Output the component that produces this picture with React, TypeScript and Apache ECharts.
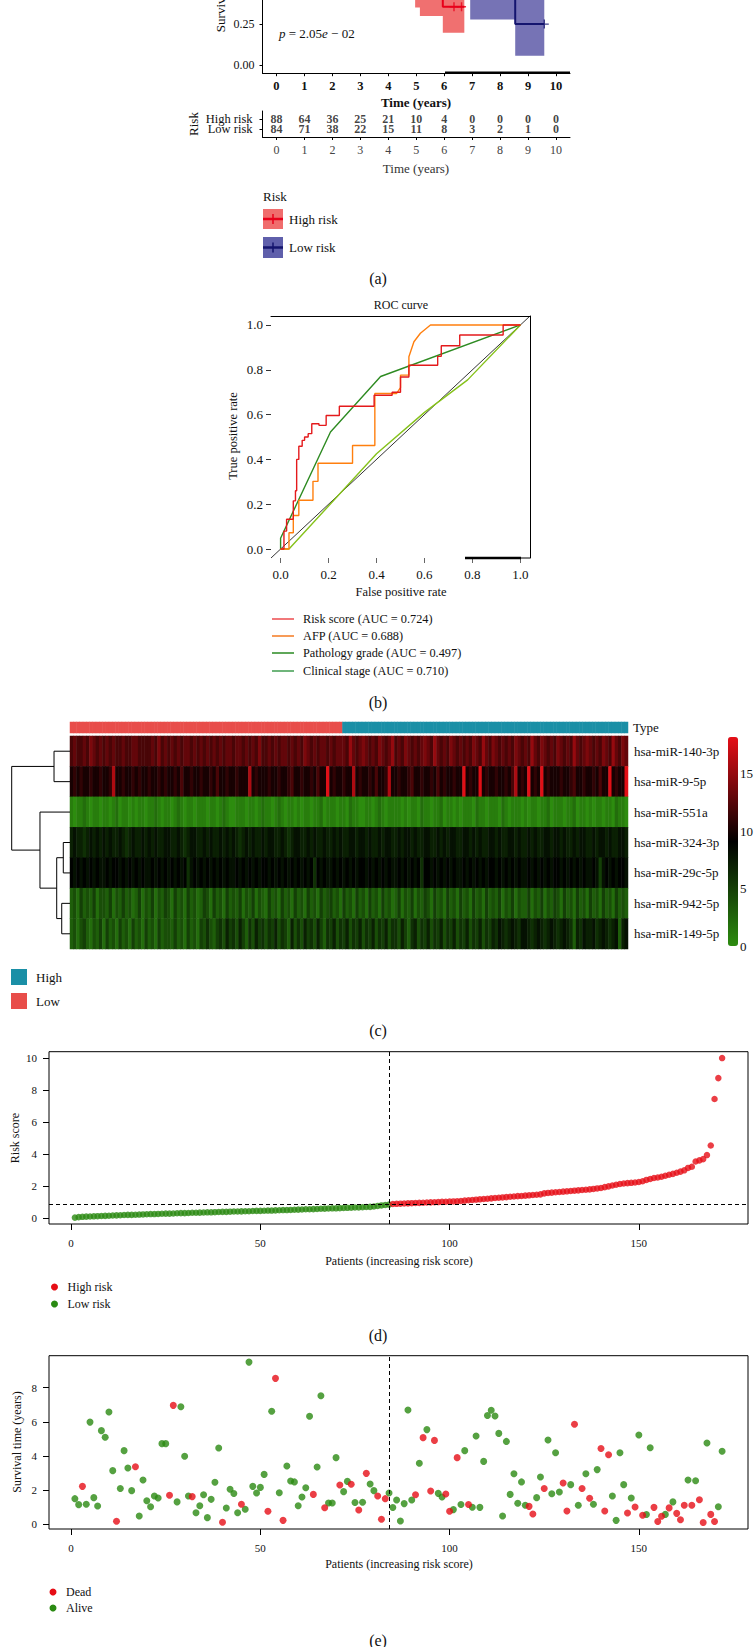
import React, { useEffect, useRef } from "react";
import * as echarts from "echarts";

const FONT = "'Liberation Serif', 'Times New Roman', serif";

// ================= (a) Kaplan-Meier =================
const kmTicks = [0, 1, 2, 3, 4, 5, 6, 7, 8, 9, 10];
const survTicks = [0, 0.25, 0.5, 0.75, 1];
const riskGroups = ["High risk", "Low risk"];
const highAtRisk = [88, 64, 36, 25, 21, 10, 4, 0, 0, 0, 0];
const lowAtRisk = [84, 71, 38, 22, 15, 11, 8, 3, 2, 1, 0];
const highTime = [0, 0.3, 0.6, 0.9, 1.2, 1.6, 2.0, 2.5, 3.0, 3.5, 4.0, 4.5, 4.96, 5.13, 5.95, 6.72];
const highSurv = [1, 0.96, 0.91, 0.86, 0.81, 0.76, 0.71, 0.66, 0.62, 0.58, 0.55, 0.52, 0.5, 0.46, 0.356, 0.356];
const highLower = [1, 0.93, 0.86, 0.8, 0.74, 0.68, 0.63, 0.57, 0.53, 0.49, 0.46, 0.43, 0.352, 0.3, 0.197, 0.197];
const highUpper = [1, 0.99, 0.96, 0.92, 0.88, 0.84, 0.8, 0.76, 0.72, 0.68, 0.66, 0.63, 0.62, 0.6, 0.58, 0.58];
const highCensor = [6.35, 6.62];
const lowTime = [0, 0.4, 0.9, 1.4, 1.9, 2.4, 2.9, 3.4, 3.9, 4.5, 5.1, 5.7, 6.3, 6.93, 8.54, 9.58];
const lowSurv = [1, 0.97, 0.93, 0.89, 0.85, 0.81, 0.77, 0.73, 0.7, 0.67, 0.64, 0.61, 0.58, 0.52, 0.25, 0.25];
const lowLower = [1, 0.95, 0.89, 0.84, 0.79, 0.74, 0.7, 0.65, 0.62, 0.58, 0.55, 0.51, 0.47, 0.279, 0.057, 0.057];
const lowUpper = [1, 0.99, 0.97, 0.94, 0.91, 0.88, 0.85, 0.82, 0.79, 0.77, 0.74, 0.72, 0.7, 0.8, 0.62, 0.62];
const lowCensor = [9.58];
// visible window of the (cropped) survival panel
const kmYMin = -0.05;
const kmYMax = 0.397;

// ================= (b) ROC =================
const rocTicks = [0, 0.2, 0.4, 0.6, 0.8, 1.0];
const rocRiskScore = [[0,0],[0.014,0],[0.014,0.08],[0.025,0.08],[0.025,0.133],[0.053,0.133],[0.053,0.215],[0.062,0.215],[0.062,0.26],[0.067,0.26],[0.067,0.4],[0.076,0.4],[0.076,0.459],[0.09,0.459],[0.09,0.485],[0.1,0.485],[0.1,0.5],[0.115,0.5],[0.115,0.515],[0.13,0.515],[0.13,0.559],[0.16,0.559],[0.16,0.552],[0.19,0.552],[0.19,0.596],[0.245,0.596],[0.245,0.637],[0.39,0.637],[0.39,0.686],[0.465,0.686],[0.465,0.7],[0.5,0.7],[0.5,0.768],[0.535,0.768],[0.535,0.82],[0.655,0.82],[0.655,0.86],[0.67,0.86],[0.67,0.907],[0.747,0.907],[0.747,0.955],[0.928,0.955],[0.928,1],[1,1]];
const rocAFP = [[0,0],[0.035,0],[0.035,0.073],[0.053,0.073],[0.053,0.15],[0.076,0.15],[0.076,0.218],[0.135,0.218],[0.135,0.302],[0.156,0.302],[0.156,0.383],[0.3,0.383],[0.3,0.462],[0.393,0.462],[0.393,0.694],[0.483,0.694],[0.5,0.72],[0.5,0.776],[0.535,0.776],[0.535,0.858],[0.556,0.925],[0.583,0.963],[0.625,1],[1,1]];
const rocPathology = [[0,0],[0.035,0],[0.4,0.425],[0.6,0.61],[0.78,0.755],[1,1]];
const rocClinical = [[0,0],[0,0.048],[0.208,0.522],[0.417,0.77],[1,1]];
const rocDiagonal = [[-0.04,-0.04],[1.04,1.04]];
const rocLegend = ["Risk score (AUC = 0.724)", "AFP (AUC = 0.688)", "Pathology grade (AUC = 0.497)", "Clinical stage (AUC = 0.710)"];

// ================= (c) Heatmap =================
const genes = ["hsa-miR-140-3p", "hsa-miR-9-5p", "hsa-miR-551a", "hsa-miR-324-3p", "hsa-miR-29c-5p", "hsa-miR-942-5p", "hsa-miR-149-5p"];
// expression levels, one character per patient (base-36 digit: 0..18)
const miR140 = ["cdccdcedcd","cdcdccdccd","dccccdcecd","cdcdcddcdc","dcdcdcdcdd","cddcdcdcec","cdcdcddcdc","dcedcdcddc","dcdddcfdcd","edcdcedcdf","cdcedcdcde","dcfdcdcedc","dcdcedcfdc","edcdcdcedc","dcfdcedcdc","edcdcfdcde","dcdcedcfdc","ed"].join("");
const miR9 = ["ababaabaab","aabgaabaab","abaabaabab","aabacaabaa","baabacaaba","abaaagabaa","abaabaabca","abaabacaai","abaabaagab","aabacaabga","abaabcaaba","abacabaaba","aiabaaiaba","abaabacgab","aiabaiabaa","abaabcaaba","abacaaiaba","ai"].join("");
const miR551 = ["1011210110","1101201101","0110112101","1012101101","1101101210","0111011012","1101210110","1011011201","1101102110","0110121011","1101011021","1011201101","0111021101","1102101110","1011011201","1101120110","1011011021","10"].join("");
const miR324 = ["7877678787","8787787678","7787878778","8778767887","7878778787","8767878778","7887787678","8778787787","7878778878","8787787887","7878878778","8778787887","7887878778","8787788787","7878778878","8787787887","7878878778","87"].join("");
const miR29c = ["9898989898","8989989898","9898898989","8989896898","9898989898","8989898989","9898989898","9898969898","8989898989","9898989898","8989898969","9898989898","8989898989","9898989898","8989898989","9898989898","8985898989","98"].join("");
const miR942 = ["3425343524","4352435342","3524352435","4253425342","3542534253","4352435243","2534253425","3425342534","5342534253","4253425342","3524352435","4253425342","5342534253","4352435243","3524352435","4253425342","5342534253","43"].join("");
const miR149 = ["3424532435","2534253425","3425342534","4353425342","5464356475","6475364756","4657465374","6475647536","5746574657","4657465746","6475367465","7465746574","6574657465","7687678768","8767876787","6787637687","7867876783","78"].join("");
const exprRows = [miR140, miR9, miR551, miR324, miR29c, miR942, miR149];
const colorbarTicks = [0, 5, 10, 15];
const exprMax = 18.2;
// dendrogram: leaves are row indices, h = merge height (root = 1)
const dendro = { h: 1, l: { h: 0.274, l: 0, r: 1 }, r: { h: 0.515, l: 2, r: { h: 0.228, l: { h: 0.115, l: 3, r: 4 }, r: { h: 0.142, l: 5, r: 6 } } } };

// ================= (d) Risk score =================
const patientTicks = [0, 50, 100, 150];
const riskTicks = [0, 2, 4, 6, 8, 10];
const riskCutoff = 0.88;
const riskScore = [
  0.05,0.08,0.10,0.11,0.12,0.13,0.14,0.15,0.16,0.17,
  0.18,0.19,0.20,0.21,0.22,0.22,0.23,0.24,0.25,0.26,
  0.27,0.27,0.28,0.29,0.30,0.30,0.31,0.32,0.33,0.33,
  0.34,0.35,0.35,0.36,0.37,0.38,0.38,0.39,0.40,0.41,
  0.41,0.42,0.43,0.43,0.44,0.45,0.45,0.46,0.47,0.47,
  0.48,0.49,0.49,0.50,0.51,0.52,0.52,0.53,0.54,0.55,
  0.56,0.57,0.57,0.58,0.59,0.60,0.61,0.62,0.63,0.63,
  0.64,0.65,0.66,0.67,0.68,0.69,0.70,0.71,0.72,0.74,
  0.78,0.81,0.84,0.86,
  0.90,0.91,0.92,0.93,0.94,0.95,0.96,0.97,0.98,0.99,
  1.00,1.01,1.02,1.03,1.04,1.05,1.06,1.07,1.09,1.11,
  1.13,1.15,1.17,1.19,1.21,1.23,1.25,1.27,1.29,1.31,
  1.33,1.35,1.37,1.39,1.40,1.42,1.44,1.46,1.48,1.50,
  1.56,1.59,1.61,1.63,1.65,1.67,1.69,1.71,1.73,1.75,
  1.77,1.79,1.81,1.84,1.87,1.90,1.95,2.00,2.05,2.10,
  2.15,2.18,2.20,2.22,2.24,2.27,2.32,2.40,2.46,2.52,
  2.55,2.60,2.66,2.72,2.78,2.85,2.92,3.00,3.15,3.22,
  3.55,3.62,3.70,3.95,4.55,7.45,8.75,10.00
];

// ================= (e) Survival status =================
const survTicks2 = [0, 2, 4, 6, 8];
const survTime = [
  1.50,1.15,2.22,1.17,5.98,1.56,1.07,5.48,5.09,6.57,
  3.14,0.18,2.09,4.31,3.29,1.97,3.37,0.49,2.59,1.38,
  1.03,1.66,1.54,4.72,4.72,1.70,6.96,1.31,6.88,3.98,
  1.66,1.62,0.68,1.09,1.73,0.39,1.46,2.46,4.46,0.12,
  0.95,2.05,1.80,0.68,1.17,0.88,9.49,2.22,1.83,2.16,
  2.92,0.76,6.61,8.54,1.85,0.23,3.41,2.53,2.48,1.09,
  1.60,2.14,6.32,1.75,3.35,7.52,0.97,1.25,1.25,3.90,
  2.30,1.91,2.51,2.34,1.27,0.84,1.29,2.98,2.36,1.97,
  1.66,0.29,1.50,1.83,0.98,1.42,0.19,1.21,6.69,1.42,
  1.73,3.57,5.07,5.54,1.95,4.91,1.81,1.60,1.77,0.76,
  0.86,3.90,1.16,4.31,1.16,1.00,5.17,0.99,3.68,6.37,
  6.67,6.34,5.32,0.49,4.85,1.75,2.96,1.23,2.48,1.11,
  1.05,0.60,1.56,2.77,2.09,4.93,1.79,4.19,1.89,2.42,
  0.78,2.32,5.85,1.11,2.09,2.96,1.52,1.17,3.20,4.44,
  0.78,4.07,1.66,0.23,4.19,2.32,0.66,1.54,1.01,5.22,
  0.53,0.57,4.48,0.99,0.16,0.47,0.58,0.96,1.31,0.64,
  0.27,1.11,2.59,1.11,2.55,1.44,0.10,4.76,0.58,0.16,
  1.03,4.27
];
const survStatus = [
  0,0,1,0,0,0,0,0,0,0,
  0,1,0,0,0,0,1,0,0,0,
  0,0,0,0,0,1,1,0,0,0,
  0,1,0,0,0,0,0,0,0,1,
  0,0,0,0,1,0,0,0,0,0,
  0,1,0,1,0,1,0,0,0,0,
  0,0,0,1,0,0,1,0,0,0,
  1,0,0,1,0,1,0,1,0,0,
  1,1,1,0,0,0,0,0,0,0,
  1,0,1,0,1,1,0,0,1,1,
  0,1,0,0,1,0,0,0,0,0,
  0,0,0,0,0,0,0,0,0,0,
  1,1,0,0,1,0,0,0,0,1,
  1,0,1,0,1,0,1,0,0,1,
  1,1,0,0,0,0,1,0,1,0,
  1,0,0,1,1,1,0,1,0,1,
  1,1,0,1,0,1,1,0,1,1,
  0,0
];

// ================= colours =================
const RED = "#e60e16";
const GREEN = "#2a8a12";
const TEAL = "#1a8fa6";
const SALMON = "#e84d4a";

function txt(x: number, y: number, text: string, o: any = {}) {
  return {
    type: "text", x, y, z: 100, rotation: o.rot || 0, silent: true,
    style: {
      text, x: 0, y: 0, fill: o.color || "#111",
      fontSize: o.size || 12, fontFamily: FONT, fontWeight: o.weight || "normal", fontStyle: o.style || "normal",
      align: o.align || "left", verticalAlign: "middle", textAlign: o.align || "left", textVerticalAlign: "middle",
      rich: o.rich,
    },
  };
}
const lab = (vals: number[], fmt: any, size: number, margin: number, extra: any = {}) => ({
  show: true, customValues: vals, formatter: fmt, fontFamily: FONT, fontSize: size, color: "#111", margin,
  showMinLabel: true, showMaxLabel: true, hideOverlap: false, ...extra,
});
const tick = (vals: number[], len: number, color = "#000") => ({ show: true, customValues: vals, length: len, lineStyle: { color, width: 1 } });
const noLine = { show: false, onZero: false };
const blackLine = { show: true, onZero: false, lineStyle: { color: "#000", width: 1 } };

export default function App() {
  const ref = useRef<HTMLDivElement>(null);
  useEffect(() => {
    if (!ref.current) return;
    const chart = echarts.init(ref.current, null, { renderer: "svg", width: 756, height: 1647 });

    // ---- geometry ----
    const heat = { left: 70, top: 736, width: 558, height: 213 };
    const nPat = riskScore.length;
    const pMin = 1 - 0.04 * (nPat - 1), pMax = nPat + 0.04 * (nPat - 1);
    const ext = (arr: number[]) => { const lo = Math.min(...arr), hi = Math.max(...arr), r = hi - lo; return [lo - 0.04 * r, hi + 0.04 * r]; };
    const [rMin, rMax] = ext(riskScore);
    const [sMin, sMax] = ext(survTime);
    const lowCount = riskScore.filter((v) => v <= riskCutoff).length;
    const kmVisibleTicks = survTicks.filter((v) => v <= kmYMax);

    const stepAt = (ts: number[], ss: number[], t: number) => { let v = ss[0]; for (let i = 0; i < ts.length; i++) if (ts[i] <= t) v = ss[i]; return v; };

    const series: any[] = [];
    const add = (s: any) => { series.push(s); return series.length - 1; };
    // confidence bands (step ribbons) drawn through the axes' scales
    const bands = [
      { t: highTime, lo: highLower, hi: highUpper, color: "#f07070" },
      { t: lowTime, lo: lowLower, hi: lowUpper, color: "#7673b5" },
    ];
    add({
      type: "custom", xAxisIndex: 0, yAxisIndex: 0, clip: true, silent: true,
      data: bands.map((_, i) => [i, 0]),
      renderItem: (params: any, api: any) => {
        const b = bands[params.dataIndex];
        const pts: number[][] = [];
        for (let i = 0; i < b.t.length - 1; i++) { pts.push(api.coord([b.t[i], b.lo[i]])); pts.push(api.coord([b.t[i + 1], b.lo[i]])); }
        for (let i = b.t.length - 2; i >= 0; i--) { pts.push(api.coord([b.t[i + 1], b.hi[i]])); pts.push(api.coord([b.t[i], b.hi[i]])); }
        return { type: "polygon", shape: { points: pts }, style: { fill: b.color, stroke: null } };
      },
    });
    const kmBase = { type: "line", xAxisIndex: 0, yAxisIndex: 0, step: "end", symbol: "none", showSymbol: false, silent: true, clip: true };
    add({ ...kmBase, data: highTime.map((t, i) => [t, highSurv[i]]), lineStyle: { color: "#e8001a", width: 2 } });
    add({ ...kmBase, data: lowTime.map((t, i) => [t, lowSurv[i]]), lineStyle: { color: "#14146e", width: 2 } });
    const plus = "path://M4.2,0H5.8V10H4.2ZM0,4.2H10V5.8H0Z";
    add({ type: "scatter", xAxisIndex: 0, yAxisIndex: 0, symbol: plus, symbolSize: 9, clip: true, itemStyle: { color: "#e8001a" }, data: highCensor.map((t) => [t, stepAt(highTime, highSurv, t)]) });
    add({ type: "scatter", xAxisIndex: 0, yAxisIndex: 0, symbol: plus, symbolSize: 9, clip: true, itemStyle: { color: "#14146e" }, data: lowCensor.map((t) => [t, stepAt(lowTime, lowSurv, t)]) });
    // risk table
    const tableLabel = { show: true, position: "inside", formatter: (p: any) => String(p.value[2]), fontFamily: FONT, fontSize: 12, fontWeight: "bold", color: "#111" };
    add({ type: "scatter", xAxisIndex: 1, yAxisIndex: 1, symbolSize: 1, itemStyle: { color: "rgba(0,0,0,0)" }, label: tableLabel, data: kmTicks.map((t, i) => [t, 2, highAtRisk[i]]) });
    add({ type: "scatter", xAxisIndex: 1, yAxisIndex: 1, symbolSize: 1, itemStyle: { color: "rgba(0,0,0,0)" }, label: tableLabel, data: kmTicks.map((t, i) => [t, 1, lowAtRisk[i]]) });

    // ROC
    const rocBase = { type: "line", xAxisIndex: 2, yAxisIndex: 2, symbol: "none", showSymbol: false, silent: true, clip: true };
    add({ ...rocBase, data: rocDiagonal, lineStyle: { color: "#000", width: 0.8 } });
    add({ ...rocBase, data: rocPathology, lineStyle: { color: "#86c21b", width: 1.4 } });
    add({ ...rocBase, data: rocClinical, lineStyle: { color: "#2e8b22", width: 1.4 } });
    add({ ...rocBase, data: rocAFP, lineStyle: { color: "#ff7f0e", width: 1.4 } });
    add({ ...rocBase, data: rocRiskScore, lineStyle: { color: "#e41a1c", width: 1.4 } });

    // heatmap
    const typeData = riskScore.map((v, i) => [i, 0, v > riskCutoff ? 1 : 0]);
    const typeIdx = add({ type: "heatmap", xAxisIndex: 4, yAxisIndex: 4, data: typeData, itemStyle: { borderWidth: 0 }, silent: true });
    const heatData: number[][] = [];
    exprRows.forEach((row, r) => { for (let c = 0; c < row.length; c++) heatData.push([c, r, parseInt(row[c], 36)]); });
    const heatIdx = add({ type: "heatmap", xAxisIndex: 5, yAxisIndex: 5, data: heatData, itemStyle: { borderWidth: 0 }, silent: true });

    // (d) risk score
    const dash = { color: "#000", type: [4, 3], width: 1 };
    add({
      type: "scatter", xAxisIndex: 7, yAxisIndex: 7, symbolSize: 6.5, itemStyle: { color: GREEN },
      data: riskScore.map((v, i) => [i + 1, v]).filter((p) => p[1] <= riskCutoff),
      markLine: { silent: true, symbol: "none", label: { show: false }, lineStyle: dash, data: [{ xAxis: lowCount }, { yAxis: riskCutoff }] },
    });
    add({ type: "scatter", xAxisIndex: 7, yAxisIndex: 7, symbolSize: 6.5, itemStyle: { color: RED }, data: riskScore.map((v, i) => [i + 1, v]).filter((p) => p[1] > riskCutoff) });
    // (e) survival status
    add({
      type: "scatter", xAxisIndex: 8, yAxisIndex: 8, symbolSize: 7, itemStyle: { color: GREEN },
      data: survTime.map((v, i) => [i + 1, v, survStatus[i]]).filter((p) => p[2] === 0),
      markLine: { silent: true, symbol: "none", label: { show: false }, lineStyle: dash, data: [{ xAxis: lowCount }] },
    });
    add({ type: "scatter", xAxisIndex: 8, yAxisIndex: 8, symbolSize: 7, itemStyle: { color: RED }, data: survTime.map((v, i) => [i + 1, v, survStatus[i]]).filter((p) => p[2] === 1) });

    // ---- graphics ----
    const g: any[] = [];
    const gl = (x1: number, y1: number, x2: number, y2: number, stroke: string, lineWidth: number) =>
      ({ type: "line", z: 100, silent: true, shape: { x1, y1, x2, y2 }, style: { stroke, lineWidth } });
    const gr = (x: number, y: number, width: number, height: number, fill: string) =>
      ({ type: "rect", z: 100, silent: true, shape: { x, y, width, height }, style: { fill } });
    const gc = (cx: number, cy: number, fill: string) => ({ type: "circle", z: 100, silent: true, shape: { cx, cy, r: 3.5 }, style: { fill } });
    // (a)
    g.push(txt(220, -20, "Survival probability", { size: 13, rot: Math.PI / 2, align: "center" }));
    g.push(txt(279, 33, "{i|p} = 2.05{i|e} \u2212 02", { size: 13, rich: { i: { fontStyle: "italic", fontFamily: FONT, fontSize: 13 } } }));
    g.push(txt(416, 102, "Time (years)", { size: 13, weight: "bold", align: "center" }));
    g.push(txt(193, 124, "Risk", { size: 13, rot: Math.PI / 2, align: "center" }));
    g.push(txt(252.5, 119, riskGroups[0], { size: 12.5, align: "right" }));
    g.push(txt(252.5, 129, riskGroups[1], { size: 12.5, align: "right" }));
    g.push(txt(416, 168, "Time (years)", { size: 13, align: "center", color: "#333" }));
    g.push(gl(445, 72.7, 570, 72.7, "#000", 2.5));
    g.push(txt(263, 196, "Risk", { size: 13 }));
    g.push(gr(263, 209, 20, 20, "#f06d6d"));
    g.push(gl(263, 219, 283, 219, "#e8001a", 2.5));
    g.push(gl(273, 214, 273, 224, "#e8001a", 1.5));
    g.push(txt(289, 219, riskGroups[0], { size: 13 }));
    g.push(gr(263, 237, 20, 21, "#5f5fab"));
    g.push(gl(263, 247.5, 283, 247.5, "#14146e", 2.5));
    g.push(gl(273, 242.5, 273, 252.5, "#14146e", 1.5));
    g.push(txt(289, 247, riskGroups[1], { size: 13 }));
    g.push(txt(378, 278, "(a)", { size: 16, align: "center" }));
    // (b)
    g.push(txt(401, 305, "ROC curve", { size: 12, align: "center" }));
    g.push(txt(233, 436, "True positive rate", { size: 12.5, rot: Math.PI / 2, align: "center" }));
    g.push(txt(401, 592, "False positive rate", { size: 12.5, align: "center" }));
    g.push(gl(465, 558, 530, 558, "#000", 1));
    g.push(gl(465, 558, 521, 558, "#000", 2.5));
    const legCols = ["#ec4b4e", "#f47a20", "#2a8a22", "#3f9d4f"];
    const legY = [619, 636, 653, 671];
    rocLegend.forEach((s, i) => {
      g.push(gl(272, legY[i], 294, legY[i], legCols[i], 1.5));
      g.push(txt(303, legY[i], s, { size: 12.3 }));
    });
    g.push(txt(378, 702, "(b)", { size: 16, align: "center" }));
    // (c) dendrogram
    const rowH = heat.height / genes.length;
    const dScale = 58.3;
    const drawNode = (n: any): { x: number; y: number } => {
      if (typeof n === "number") return { x: heat.left, y: heat.top + rowH * (n + 0.5) };
      const a = drawNode(n.l), b = drawNode(n.r);
      const xh = heat.left - n.h * dScale;
      g.push({ type: "polyline", z: 100, silent: true, shape: { points: [[a.x, a.y], [xh, a.y], [xh, b.y], [b.x, b.y]] }, style: { stroke: "#000", lineWidth: 1, fill: null } });
      return { x: xh, y: (a.y + b.y) / 2 };
    };
    drawNode(dendro);
    g.push(gr(11, 969, 16, 16, TEAL));
    g.push(txt(36, 977, "High", { size: 13 }));
    g.push(gr(11, 993, 16, 16, SALMON));
    g.push(txt(36, 1001, "Low", { size: 13 }));
    g.push(txt(378, 1030, "(c)", { size: 16, align: "center" }));
    // (d)
    g.push(txt(14.5, 1138, "Risk score", { size: 12, rot: Math.PI / 2, align: "center" }));
    g.push(txt(399, 1261, "Patients (increasing risk score)", { size: 12, align: "center" }));
    g.push(gc(54.5, 1287, RED));
    g.push(txt(67.5, 1287, riskGroups[0], { size: 12 }));
    g.push(gc(54.5, 1304, GREEN));
    g.push(txt(67.5, 1304, riskGroups[1], { size: 12 }));
    g.push(txt(378, 1335, "(d)", { size: 16, align: "center" }));
    // (e)
    g.push(txt(17, 1442, "Survival time (years)", { size: 12, rot: Math.PI / 2, align: "center" }));
    g.push(txt(399, 1564, "Patients (increasing risk score)", { size: 12, align: "center" }));
    g.push(gc(53, 1592, RED));
    g.push(txt(66, 1592, "Dead", { size: 12 }));
    g.push(gc(53, 1608, GREEN));
    g.push(txt(66, 1608, "Alive", { size: 12 }));
    g.push(txt(378, 1640, "(e)", { size: 16, align: "center" }));

    const catIdx = riskScore.map((_, i) => String(i));
    const boxGrid = { show: true, borderColor: "#000", borderWidth: 1, backgroundColor: "transparent" };
    const kmGridBottom = 73.2;
    const kmPxPerUnit = 163.6;
    const kmGridHeight = (kmYMax - kmYMin) * kmPxPerUnit;

    const option: any = {
      backgroundColor: "#fff",
      animation: false,
      grid: [
        { left: 262.5, top: kmGridBottom - kmGridHeight, width: 307.5, height: kmGridHeight },
        { left: 262.5, top: 111, width: 307.5, height: 26 },
        { left: 271, top: 316, width: 259, height: 242 },
        { left: heat.left, top: 722, width: heat.width, height: 11 },
        { left: heat.left, top: heat.top, width: heat.width, height: heat.height },
        { left: 728, top: 737, width: 10, height: 209 },
        { left: 49, top: 1051.7, width: 699, height: 172.3, ...boxGrid },
        { left: 49, top: 1355.7, width: 699, height: 173.3, ...boxGrid },
      ],
      xAxis: [
        { gridIndex: 0, type: "value", min: -0.5, max: 10.5, axisLine: blackLine, axisTick: tick(kmTicks, 3), axisLabel: lab(kmTicks, (v: number) => String(v), 12.5, 6, { fontWeight: "bold" }), splitLine: { show: false } },
        { gridIndex: 1, type: "value", min: -0.5, max: 10.5, axisLine: blackLine, axisTick: tick(kmTicks, 3), axisLabel: lab(kmTicks, (v: number) => String(v), 12, 7, { color: "#444" }), splitLine: { show: false } },
        { gridIndex: 2, type: "value", min: -0.04, max: 1.04, axisLine: noLine, axisTick: tick(rocTicks, 5, "#666"), axisLabel: lab(rocTicks, (v: number) => v.toFixed(1), 13, 10), splitLine: { show: false } },
        { gridIndex: 2, type: "value", position: "top", min: -0.04, max: 1.04, axisLine: blackLine, axisTick: { show: false }, axisLabel: { show: false }, splitLine: { show: false } },
        { gridIndex: 3, type: "category", data: catIdx, show: false },
        { gridIndex: 4, type: "category", data: catIdx, show: false },
        { gridIndex: 5, type: "value", show: false },
        { gridIndex: 6, type: "value", min: pMin, max: pMax, axisLine: noLine, axisTick: tick(patientTicks, 6), axisLabel: lab(patientTicks, (v: number) => String(v), 11, 13), splitLine: { show: false } },
        { gridIndex: 7, type: "value", min: pMin, max: pMax, axisLine: noLine, axisTick: tick(patientTicks, 6), axisLabel: lab(patientTicks, (v: number) => String(v), 11, 13), splitLine: { show: false } },
      ],
      yAxis: [
        { gridIndex: 0, type: "value", min: kmYMin, max: kmYMax, axisLine: blackLine, axisTick: tick(kmVisibleTicks, 3), axisLabel: lab(kmVisibleTicks, (v: number) => v.toFixed(2), 12, 8), splitLine: { show: false } },
        { gridIndex: 1, type: "value", min: 0.2, max: 2.8, axisLine: blackLine, axisTick: tick([1, 2], 3), axisLabel: { show: false }, splitLine: { show: false } },
        { gridIndex: 2, type: "value", min: -0.04, max: 1.04, axisLine: noLine, axisTick: tick(rocTicks, 5, "#333"), axisLabel: lab(rocTicks, (v: number) => v.toFixed(1), 13, 8), splitLine: { show: false } },
        { gridIndex: 2, type: "value", position: "right", min: -0.04, max: 1.04, axisLine: blackLine, axisTick: { show: false }, axisLabel: { show: false }, splitLine: { show: false } },
        { gridIndex: 3, type: "category", data: ["Type"], position: "right", axisLine: { show: false }, axisTick: { show: false }, axisLabel: { show: true, fontFamily: FONT, fontSize: 13, color: "#111", margin: 5 } },
        { gridIndex: 4, type: "category", data: genes, inverse: true, position: "right", axisLine: { show: false }, axisTick: { show: false }, axisLabel: { show: true, fontFamily: FONT, fontSize: 13, color: "#111", margin: 6 } },
        { gridIndex: 5, type: "value", min: 0, max: exprMax, position: "right", axisLine: noLine, axisTick: { show: false }, axisLabel: lab(colorbarTicks, (v: number) => String(v), 13, 7), splitLine: { show: false } },
        { gridIndex: 6, type: "value", min: rMin, max: rMax, axisLine: noLine, axisTick: tick(riskTicks, 6), axisLabel: lab(riskTicks, (v: number) => String(v), 11, 12), splitLine: { show: false } },
        { gridIndex: 7, type: "value", min: sMin, max: sMax, axisLine: noLine, axisTick: tick(survTicks2, 6), axisLabel: lab(survTicks2, (v: number) => String(v), 11, 12), splitLine: { show: false } },
      ],
      visualMap: [
        {
          type: "continuous", seriesIndex: heatIdx, min: 0, max: exprMax, show: true, calculable: false,
          orient: "vertical", left: 728, top: 737, itemWidth: 10, itemHeight: 209, padding: 0, text: null,
          inRange: { color: ["#2d8c0f", "#000000", "#e60f17"] }, textStyle: { fontSize: 0 },
        },
        {
          type: "piecewise", seriesIndex: typeIdx, show: false,
          pieces: [{ value: 0, color: SALMON }, { value: 1, color: TEAL }],
        },
      ],
      series,
      graphic: g,
    };
    chart.setOption(option);
    return () => chart.dispose();
  }, []);
  return <div ref={ref} style={{ position: "absolute", left: 0, top: 0, width: 756, height: 1647, background: "#fff" }} />;
}
